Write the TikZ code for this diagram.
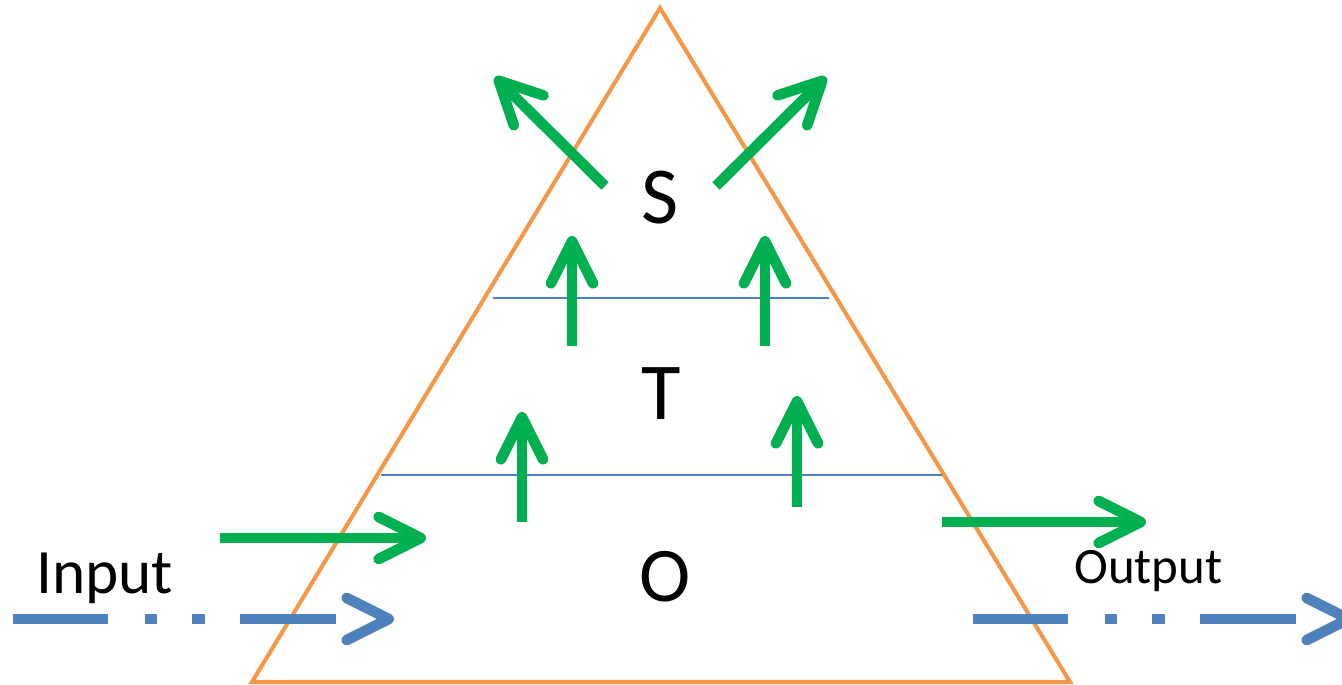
\documentclass[tikz,border=0pt]{standalone}
\usepackage{fontspec}
\setmainfont{Carlito}
\usetikzlibrary{calc, positioning, arrows.meta}
\definecolor{PyramidOrange}{HTML}{F79646}
\definecolor{LayerBlue}{HTML}{4F81BD}
\definecolor{FlowGreen}{HTML}{00B050}

\begin{document}
\begin{tikzpicture}[x=0.02cm, y=-0.02cm,
    greenflow/.style={FlowGreen, line width=6pt,
        -{Straight Barb[length=24pt, width=24pt, round]}},
    blueflow/.style={LayerBlue, line width=6pt,
        dash pattern=on 54pt off 21pt on 7pt off 20pt on 7pt off 20pt on 55pt off 80pt,
        -{Straight Barb[length=24pt, width=24pt, round]}},
    layer/.style={LayerBlue, line width=1.1pt},
    bigletter/.style={font=\fontsize{46}{50}\selectfont, inner sep=0pt},
    sidelabel/.style={inner sep=0pt, anchor=base west}]
    \clip (0,0) rectangle (1342,685);

    % Pyramid
    \coordinate (apex) at (660,8);
    \coordinate (baseL) at (252,682);
    \coordinate (baseR) at (1070,682);
    \draw[PyramidOrange, line width=2.3pt, line join=miter] (apex) -- (baseL) -- (baseR) -- cycle;

    % Layer boundaries
    \coordinate (upperL) at (493,298);
    \coordinate (upperR) at (829,298);
    \coordinate (lowerL) at (381,475);
    \coordinate (lowerR) at (942,475);
    \draw[layer] (upperL) -- (upperR);
    \draw[layer] (lowerL) -- (lowerR);

    % Layer letters
    \node[bigletter] (letterS) at (660,198) {S};
    \node[bigletter] (letterT) at (661,394) {T};
    \node[bigletter, font=\fontsize{44}{48}\selectfont] (letterO) at (665,577) {O};

    % Side labels
    \node[sidelabel, font=\fontsize{36}{40}\selectfont] (inputLabel) at (36,593) {Input};
    \node[sidelabel, font=\fontsize{29}{33}\selectfont] (outputLabel) at (1074,583) {Output};

    % Upward flows between layers
    \coordinate (upA0) at (572,346); \coordinate (upA1) at (572,236);
    \coordinate (upB0) at (765,346); \coordinate (upB1) at (765,236);
    \coordinate (upC0) at (522,522); \coordinate (upC1) at (522,412);
    \coordinate (upD0) at (797,507); \coordinate (upD1) at (797,396);
    \draw[greenflow] (upA0) -- (upA1);
    \draw[greenflow] (upB0) -- (upB1);
    \draw[greenflow] (upC0) -- (upC1);
    \draw[greenflow] (upD0) -- (upD1);

    % Flows leaving the top
    \coordinate (outL0) at (605,186); \coordinate (outL1) at (495,77);
    \coordinate (outR0) at (716,186); \coordinate (outR1) at (826,77);
    \draw[greenflow] (outL0) -- (outL1);
    \draw[greenflow] (outR0) -- (outR1);

    % Side flows
    \coordinate (sideIn0) at (220,538); \coordinate (sideIn1) at (426,538);
    \coordinate (sideOut0) at (942,522); \coordinate (sideOut1) at (1146,522);
    \draw[greenflow] (sideIn0) -- (sideIn1);
    \draw[greenflow] (sideOut0) -- (sideOut1);

    % Input and output streams
    \coordinate (inStart) at (13,619); \coordinate (inEnd) at (394,619);
    \coordinate (outStart) at (973,619); \coordinate (outEnd) at (1354,619);
    \draw[blueflow] (inStart) -- (inEnd);
    \draw[blueflow] (outStart) -- (outEnd);
\end{tikzpicture}
\end{document}
